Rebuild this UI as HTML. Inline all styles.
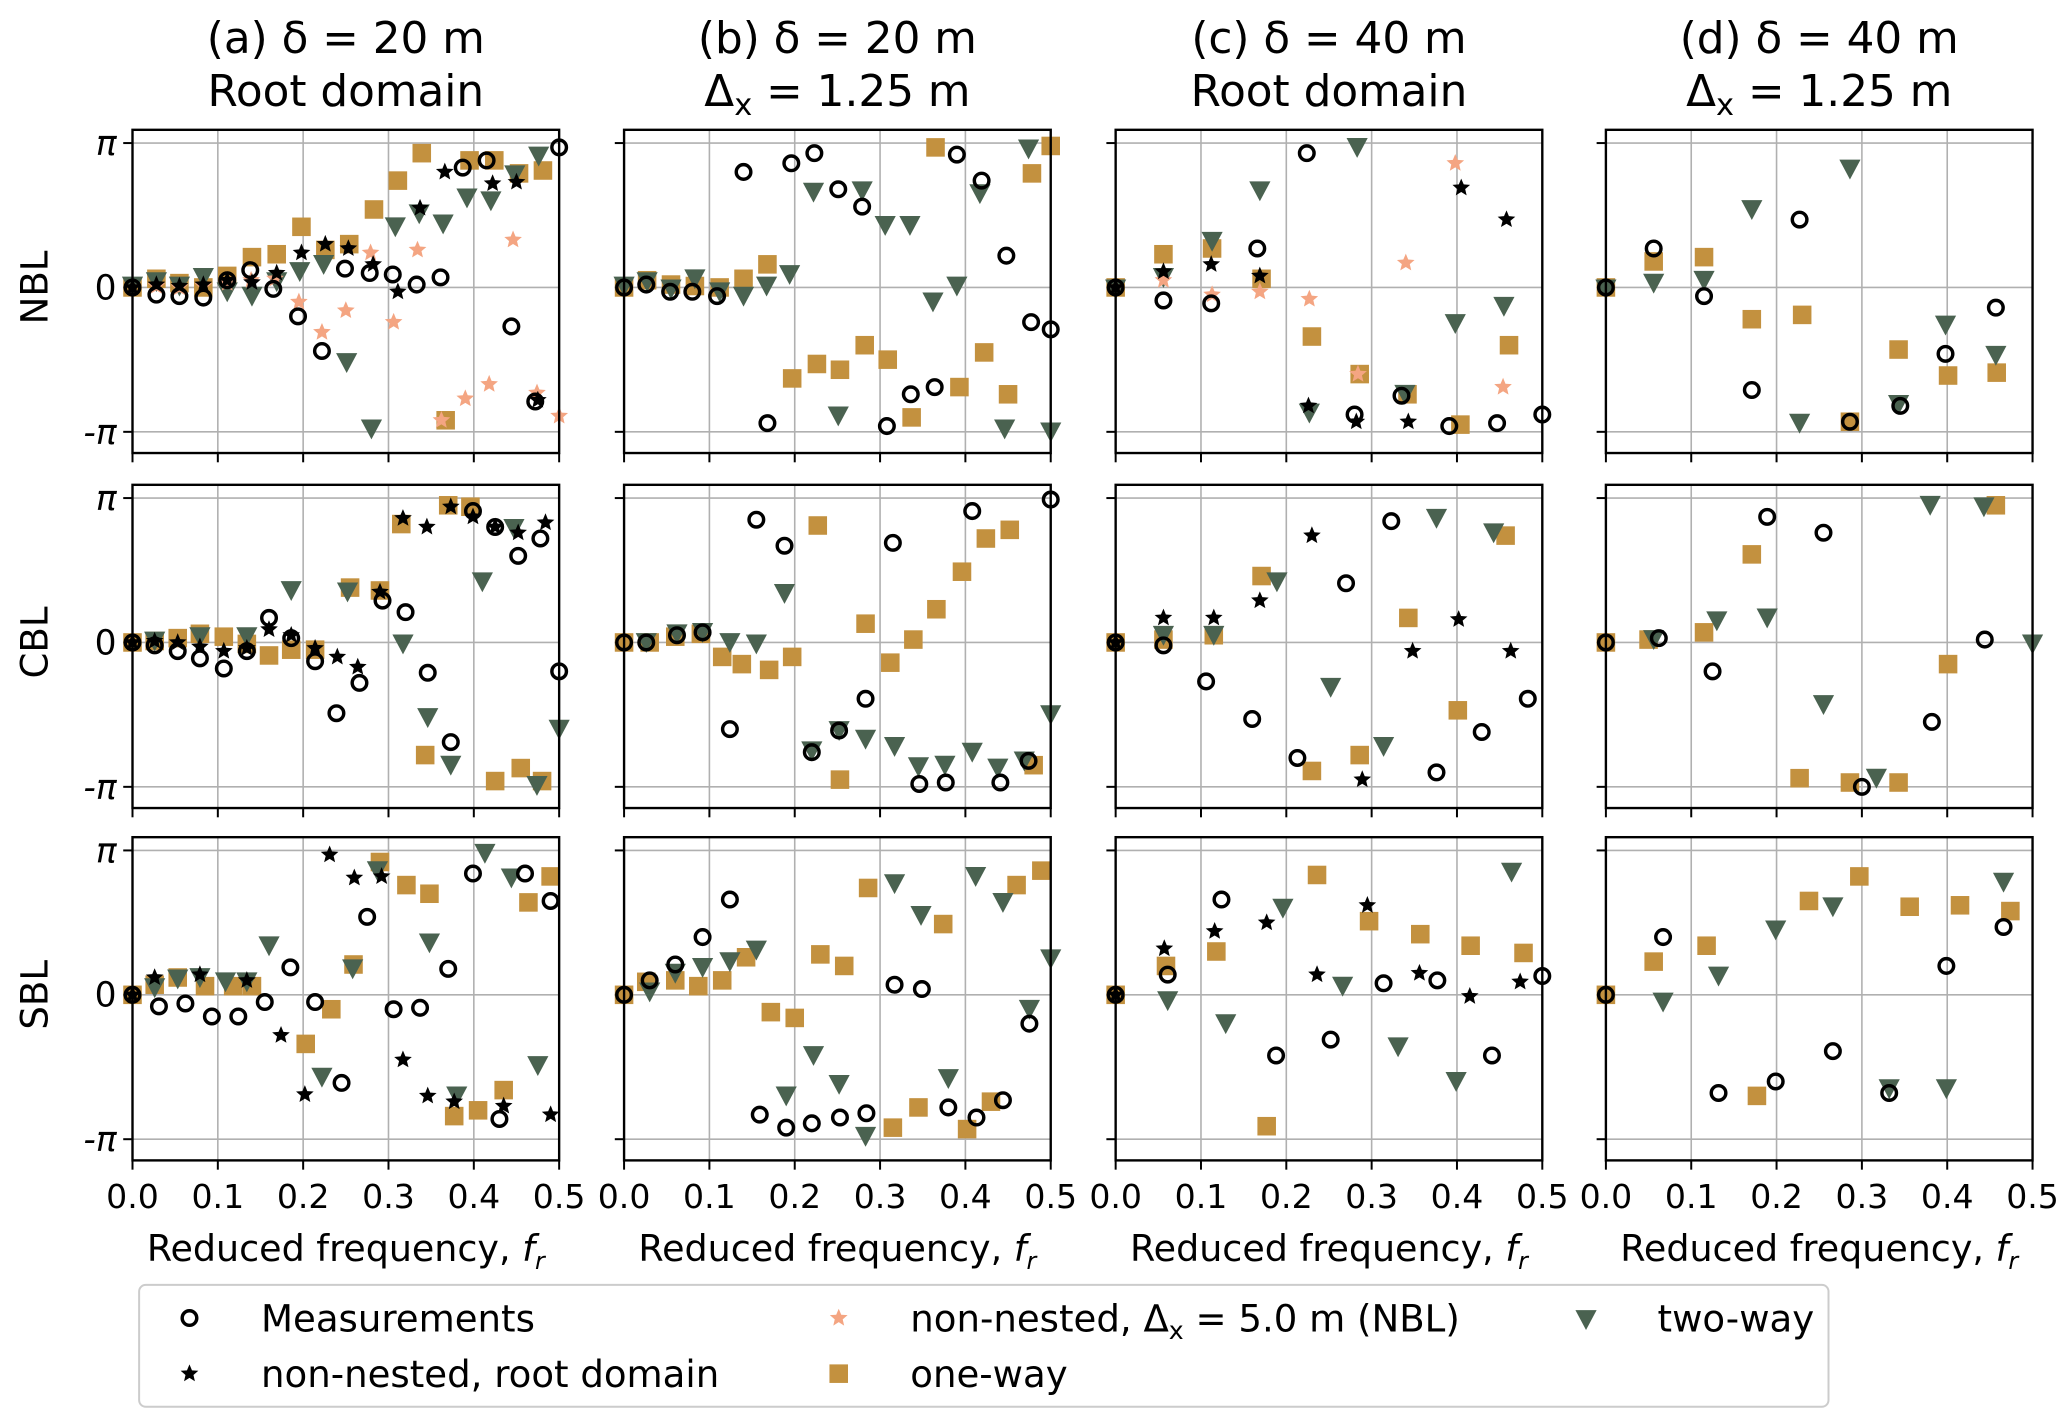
<!DOCTYPE html>
<html><head><meta charset="utf-8"><style>
html,body{margin:0;padding:0;background:#fff;}
svg{display:block;font-family:"DejaVu Sans","Liberation Sans",sans-serif;}
</style></head><body>
<svg id="fig" width="2067" height="1424" viewBox="0 0 1560 1075" preserveAspectRatio="none" xmlns="http://www.w3.org/2000/svg"></svg>
<script>
// ---- data: [reduced frequency, phase / pi] ----
const aNBL_meas=[[0,0],[0.028,-0.05],[0.055,-0.06],[0.083,-0.07],[0.111,0.05],[0.138,0.12],[0.165,-0.01],[0.194,-0.2],[0.222,-0.44],[0.249,0.13],[0.278,0.1],[0.305,0.09],[0.333,0.02],[0.361,0.07],[0.387,0.83],[0.415,0.88],[0.444,-0.27],[0.472,-0.79],[0.5,0.97]];
const aNBL_root=[[0,0],[0.028,0.02],[0.055,0.01],[0.083,0.02],[0.111,0.05],[0.14,0.035],[0.169,0.1],[0.198,0.24],[0.226,0.3],[0.253,0.27],[0.282,0.16],[0.311,-0.03],[0.337,0.55],[0.366,0.8],[0.422,0.72],[0.45,0.73],[0.475,-0.78]];
const aNBL_nn5=[[0,0],[0.028,0.01],[0.055,0],[0.083,0.01],[0.111,0.03],[0.139,0.05],[0.167,0.06],[0.195,-0.1],[0.222,-0.31],[0.25,-0.16],[0.279,0.24],[0.306,-0.24],[0.334,0.26],[0.362,-0.92],[0.39,-0.77],[0.418,-0.67],[0.446,0.33],[0.474,-0.73],[0.5,-0.89]];
const aNBL_one=[[0,0],[0.028,0.06],[0.055,0.03],[0.083,0],[0.111,0.08],[0.14,0.21],[0.169,0.23],[0.198,0.42],[0.226,0.26],[0.254,0.3],[0.283,0.54],[0.311,0.74],[0.339,0.93],[0.367,-0.92],[0.395,0.88],[0.424,0.88],[0.453,0.79],[0.481,0.81]];
const aNBL_two=[[0,0.02],[0.028,0.05],[0.055,0.02],[0.083,0.08],[0.111,-0.02],[0.14,-0.05],[0.169,0.05],[0.196,0.12],[0.224,0.17],[0.251,-0.51],[0.28,-0.97],[0.308,0.43],[0.336,0.52],[0.364,0.45],[0.392,0.63],[0.42,0.61],[0.448,0.79],[0.476,0.92]];

const bNBL_meas=[[0,0],[0.026,0.02],[0.054,-0.03],[0.08,-0.03],[0.109,-0.06],[0.14,0.8],[0.168,-0.94],[0.196,0.86],[0.223,0.93],[0.251,0.68],[0.279,0.56],[0.308,-0.96],[0.336,-0.74],[0.364,-0.69],[0.39,0.92],[0.419,0.74],[0.448,0.22],[0.477,-0.24],[0.5,-0.29]];
const bNBL_one=[[0,0],[0.027,0.05],[0.055,0.02],[0.083,0.01],[0.112,0],[0.14,0.06],[0.168,0.16],[0.197,-0.63],[0.226,-0.53],[0.253,-0.57],[0.282,-0.4],[0.309,-0.5],[0.337,-0.9],[0.365,0.97],[0.393,-0.69],[0.422,-0.45],[0.45,-0.74],[0.478,0.79],[0.5,0.98]];
const bNBL_two=[[0,0.02],[0.027,0.05],[0.055,0],[0.083,0.07],[0.112,-0.02],[0.14,-0.05],[0.167,0.02],[0.194,0.1],[0.222,0.67],[0.251,-0.88],[0.279,0.68],[0.306,0.44],[0.335,0.44],[0.362,-0.09],[0.39,0.02],[0.417,0.66],[0.446,-0.97],[0.474,0.97],[0.5,-0.99]];

const cNBL_meas=[[0,0],[0.056,-0.09],[0.112,-0.11],[0.166,0.27],[0.224,0.93],[0.28,-0.88],[0.335,-0.75],[0.391,-0.96],[0.447,-0.94],[0.5,-0.88]];
const cNBL_root=[[0,0],[0.056,0.11],[0.112,0.16],[0.169,0.08],[0.226,-0.82],[0.282,-0.93],[0.343,-0.93],[0.405,0.69],[0.458,0.47]];
const cNBL_nn5=[[0,0],[0.056,0.05],[0.113,-0.05],[0.169,-0.03],[0.227,-0.08],[0.284,-0.6],[0.34,0.17],[0.398,0.86],[0.454,-0.69]];
const cNBL_one=[[0,0],[0.056,0.23],[0.113,0.27],[0.171,0.06],[0.23,-0.34],[0.286,-0.6],[0.342,-0.74],[0.404,-0.95],[0.461,-0.4]];
const cNBL_two=[[0,0],[0.056,0.08],[0.113,0.33],[0.169,0.68],[0.227,-0.86],[0.283,0.98],[0.339,-0.73],[0.398,-0.24],[0.455,-0.12]];

const dNBL_meas=[[0,0],[0.056,0.27],[0.115,-0.06],[0.171,-0.71],[0.227,0.47],[0.286,-0.93],[0.345,-0.82],[0.398,-0.46],[0.457,-0.14]];
const dNBL_one=[[0,0],[0.056,0.18],[0.115,0.21],[0.171,-0.22],[0.23,-0.19],[0.286,-0.93],[0.343,-0.43],[0.401,-0.61],[0.458,-0.59]];
const dNBL_two=[[0,0],[0.056,0.04],[0.115,0.06],[0.171,0.55],[0.227,-0.93],[0.286,0.83],[0.343,-0.8],[0.398,-0.25],[0.457,-0.46]];

const aCBL_meas=[[0,0],[0.026,-0.02],[0.053,-0.06],[0.079,-0.11],[0.107,-0.18],[0.134,-0.06],[0.16,0.17],[0.186,0.03],[0.214,-0.13],[0.239,-0.49],[0.266,-0.28],[0.293,0.29],[0.32,0.21],[0.346,-0.21],[0.373,-0.69],[0.399,0.91],[0.425,0.8],[0.452,0.6],[0.478,0.72],[0.5,-0.2]];
const aCBL_root=[[0,0],[0.026,0.01],[0.053,0],[0.079,-0.03],[0.107,-0.06],[0.134,-0.04],[0.16,0.09],[0.186,0.05],[0.214,-0.04],[0.24,-0.1],[0.264,-0.17],[0.29,0.35],[0.317,0.86],[0.345,0.8],[0.373,0.94],[0.399,0.87],[0.425,0.8],[0.452,0.76],[0.484,0.83]];
const aCBL_one=[[0,0],[0.026,0.01],[0.053,0.03],[0.079,0.06],[0.107,0.04],[0.134,-0.01],[0.16,-0.09],[0.186,-0.05],[0.214,-0.05],[0.255,0.38],[0.29,0.36],[0.315,0.82],[0.343,-0.78],[0.37,0.95],[0.396,0.94],[0.425,-0.96],[0.455,-0.87],[0.48,-0.96]];
const aCBL_two=[[0.026,0.02],[0.079,0.05],[0.134,0.05],[0.186,0.37],[0.252,0.36],[0.317,0],[0.346,-0.51],[0.373,-0.84],[0.41,0.43],[0.447,0.8],[0.474,-0.98],[0.5,-0.59]];

const bCBL_meas=[[0,0],[0.026,0],[0.062,0.05],[0.092,0.07],[0.124,-0.6],[0.155,0.85],[0.188,0.67],[0.22,-0.76],[0.252,-0.61],[0.283,-0.39],[0.315,0.69],[0.346,-0.98],[0.377,-0.97],[0.408,0.91],[0.441,-0.97],[0.474,-0.82],[0.5,0.99]];
const bCBL_one=[[0,0],[0.03,0],[0.06,0.04],[0.09,0.06],[0.115,-0.1],[0.138,-0.15],[0.17,-0.19],[0.197,-0.1],[0.227,0.81],[0.253,-0.95],[0.283,0.13],[0.312,-0.14],[0.339,0.02],[0.366,0.23],[0.396,0.49],[0.424,0.72],[0.452,0.78],[0.48,-0.85]];
const bCBL_two=[[0.026,0.01],[0.062,0.07],[0.092,0.08],[0.124,0.01],[0.155,0],[0.188,0.35],[0.22,-0.74],[0.252,-0.6],[0.283,-0.66],[0.317,-0.71],[0.345,-0.85],[0.376,-0.84],[0.408,-0.75],[0.438,-0.86],[0.469,-0.81],[0.5,-0.49]];

const cCBL_meas=[[0,0],[0.056,-0.02],[0.106,-0.27],[0.16,-0.53],[0.213,-0.8],[0.27,0.41],[0.323,0.84],[0.376,-0.9],[0.429,-0.62],[0.483,-0.39]];
const cCBL_root=[[0,0],[0.056,0.17],[0.115,0.17],[0.169,0.29],[0.23,0.74],[0.289,-0.95],[0.348,-0.06],[0.402,0.16],[0.463,-0.06]];
const cCBL_one=[[0,0],[0.056,0.02],[0.115,0.05],[0.171,0.46],[0.23,-0.89],[0.286,-0.78],[0.343,0.17],[0.401,-0.47],[0.457,0.74]];
const cCBL_two=[[0.056,0.06],[0.115,0.06],[0.189,0.43],[0.252,-0.3],[0.314,-0.71],[0.376,0.87],[0.443,0.77]];

const dCBL_meas=[[0,0],[0.062,0.03],[0.125,-0.2],[0.189,0.87],[0.255,0.76],[0.3,-1.0],[0.382,-0.55],[0.444,0.02]];
const dCBL_one=[[0,0],[0.05,0.02],[0.115,0.07],[0.171,0.61],[0.227,-0.94],[0.286,-0.97],[0.343,-0.97],[0.401,-0.15],[0.457,0.95]];
const dCBL_two=[[0.056,0.03],[0.13,0.16],[0.189,0.18],[0.255,-0.42],[0.317,-0.93],[0.38,0.96],[0.443,0.95],[0.5,0]];

const aSBL_meas=[[0,0],[0.031,-0.08],[0.062,-0.06],[0.093,-0.15],[0.124,-0.15],[0.155,-0.05],[0.185,0.19],[0.214,-0.05],[0.245,-0.61],[0.275,0.54],[0.306,-0.1],[0.337,-0.09],[0.37,0.18],[0.399,0.84],[0.43,-0.86],[0.46,0.84],[0.49,0.65]];
const aSBL_root=[[0,0],[0.026,0.12],[0.079,0.14],[0.134,0.1],[0.174,-0.28],[0.202,-0.69],[0.231,0.97],[0.26,0.81],[0.292,0.82],[0.317,-0.45],[0.346,-0.7],[0.377,-0.74],[0.435,-0.77],[0.49,-0.83]];
const aSBL_one=[[0,0],[0.026,0.07],[0.053,0.12],[0.085,0.06],[0.118,0.06],[0.14,0.06],[0.203,-0.34],[0.233,-0.1],[0.259,0.21],[0.29,0.92],[0.321,0.76],[0.348,0.7],[0.377,-0.84],[0.405,-0.8],[0.435,-0.66],[0.464,0.64],[0.49,0.82]];
const aSBL_two=[[0.026,0.06],[0.053,0.12],[0.079,0.13],[0.109,0.1],[0.134,0.1],[0.16,0.35],[0.222,-0.56],[0.258,0.19],[0.287,0.87],[0.348,0.37],[0.38,-0.69],[0.413,0.99],[0.444,0.82],[0.475,-0.48]];

const bSBL_meas=[[0,0],[0.03,0.1],[0.06,0.21],[0.092,0.4],[0.124,0.66],[0.159,-0.83],[0.19,-0.92],[0.22,-0.89],[0.253,-0.85],[0.284,-0.82],[0.317,0.07],[0.349,0.04],[0.38,-0.78],[0.413,-0.85],[0.444,-0.73],[0.475,-0.2]];
const bSBL_one=[[0,0],[0.026,0.09],[0.06,0.1],[0.087,0.06],[0.115,0.1],[0.143,0.26],[0.172,-0.12],[0.2,-0.16],[0.23,0.28],[0.258,0.2],[0.286,0.74],[0.315,-0.92],[0.345,-0.78],[0.374,0.49],[0.402,-0.93],[0.43,-0.74],[0.46,0.76],[0.489,0.86]];
const bSBL_two=[[0.03,0.03],[0.06,0.16],[0.092,0.2],[0.124,0.24],[0.155,0.32],[0.19,-0.69],[0.222,-0.41],[0.252,-0.61],[0.283,-0.97],[0.317,0.78],[0.348,0.56],[0.38,-0.57],[0.412,0.83],[0.444,0.65],[0.475,-0.09],[0.5,0.26]];

const cSBL_meas=[[0,0],[0.061,0.14],[0.124,0.66],[0.188,-0.42],[0.252,-0.31],[0.314,0.08],[0.377,0.1],[0.441,-0.42],[0.5,0.13]];
const cSBL_root=[[0,0],[0.057,0.32],[0.116,0.44],[0.177,0.5],[0.236,0.14],[0.295,0.62],[0.356,0.15],[0.415,-0.01],[0.474,0.09]];
const cSBL_one=[[0,0],[0.059,0.2],[0.118,0.3],[0.177,-0.91],[0.236,0.83],[0.297,0.51],[0.357,0.42],[0.416,0.34],[0.478,0.29]];
const cSBL_two=[[0.061,-0.03],[0.129,-0.19],[0.196,0.61],[0.266,0.07],[0.331,-0.35],[0.399,-0.59],[0.464,0.86]];

const dSBL_meas=[[0,0],[0.067,0.4],[0.132,-0.68],[0.199,-0.6],[0.266,-0.39],[0.332,-0.68],[0.399,0.2],[0.466,0.47]];
const dSBL_one=[[0,0],[0.056,0.23],[0.118,0.34],[0.177,-0.7],[0.238,0.65],[0.297,0.82],[0.356,0.61],[0.415,0.62],[0.474,0.58]];
const dSBL_two=[[0.067,-0.04],[0.132,0.14],[0.199,0.46],[0.266,0.62],[0.332,-0.64],[0.399,-0.64],[0.466,0.79]];

const xTicks=["0.0","0.1","0.2","0.3","0.4","0.5"];
const yTicks=[["π",1],["0",0],["-π",-1]];
const rowNames=["NBL","CBL","SBL"];
const colTitles=[["(a) δ = 20 m","Root domain"],["(b) δ = 20 m","Δx = 1.25 m"],["(c) δ = 40 m","Root domain"],["(d) δ = 40 m","Δx = 1.25 m"]];

const panels=[
 [{meas:aNBL_meas,root:aNBL_root,nn5:aNBL_nn5,one:aNBL_one,two:aNBL_two},{meas:bNBL_meas,one:bNBL_one,two:bNBL_two},{meas:cNBL_meas,root:cNBL_root,nn5:cNBL_nn5,one:cNBL_one,two:cNBL_two},{meas:dNBL_meas,one:dNBL_one,two:dNBL_two}],
 [{meas:aCBL_meas,root:aCBL_root,one:aCBL_one,two:aCBL_two},{meas:bCBL_meas,one:bCBL_one,two:bCBL_two},{meas:cCBL_meas,root:cCBL_root,one:cCBL_one,two:cCBL_two},{meas:dCBL_meas,one:dCBL_one,two:dCBL_two}],
 [{meas:aSBL_meas,root:aSBL_root,one:aSBL_one,two:aSBL_two},{meas:bSBL_meas,one:bSBL_one,two:bSBL_two},{meas:cSBL_meas,root:cSBL_root,one:cSBL_one,two:cSBL_two},{meas:dSBL_meas,one:dSBL_one,two:dSBL_two}]
];

const NS="http://www.w3.org/2000/svg";
const svg=document.getElementById('fig');
const colX=[100,471,842,1212], W=322;
const rowZero=[217,485,751], PI_PX=109, H_HALF=119;
const C_ONE="#c3913f", C_TWO="#4a6250", C_NN5="#f4a582";
function el(tag,attrs,parent){const e=document.createElementNS(NS,tag);for(const k in attrs)e.setAttribute(k,attrs[k]);(parent||svg).appendChild(e);return e;}
function txt(s,attrs,parent){const t=el('text',attrs,parent);t.textContent=s;return t;}
function starPath(cx,cy,r){let d="";for(let i=0;i<10;i++){const a=-Math.PI/2+i*Math.PI/5;const rr=i%2?r*0.45:r;d+=(i?"L":"M")+(cx+rr*Math.cos(a)).toFixed(1)+","+(cy+rr*Math.sin(a)).toFixed(1);}return d+"Z";}
function mk(type,cx,cy,g){
 let m;
 if(type==='one'){m=el('rect',{x:cx-7,y:cy-7,width:14,height:14,fill:C_ONE},g);}
 else if(type==='two'){m=el('path',{d:`M${cx-8},${cy-6}L${cx+8},${cy-6}L${cx},${cy+9}Z`,fill:C_TWO},g);}
 else if(type==='nn5'){m=el('path',{d:starPath(cx,cy,7),fill:C_NN5},g);}
 else if(type==='root'){m=el('path',{d:starPath(cx,cy,7),fill:"#000"},g);}
 else {m=el('circle',{cx:cx,cy:cy,r:5.5,fill:"none",stroke:"#000","stroke-width":2.6},g);}
 return m;
}

for(let r=0;r<3;r++){for(let c=0;c<4;c++){
 const x0=colX[c], y0=rowZero[r];
 const xs=f=>x0+f/0.5*W, ys=p=>y0-p*PI_PX;
 const g=el('g',{});
 
 
 const top=y0-H_HALF, bot=y0+H_HALF+6;
 for(let i=1;i<5;i++){const gx=xs(i*0.1);const l=el('line',{x1:gx,x2:gx,y1:top,y2:bot,stroke:"#b0b0b0","stroke-width":1.2},g);}
 yTicks.forEach(t=>{const gy=ys(t[1]);const l=el('line',{x1:x0,x2:x0+W,y1:gy,y2:gy,stroke:"#b0b0b0","stroke-width":1.2},g);
  el('line',{x1:x0-7,x2:x0,y1:gy,y2:gy,stroke:"#000","stroke-width":1.5},g);
  if(c===0){const tl=txt(t[0],{x:x0-12,y:gy+9,"text-anchor":"end","font-size":26,"font-style":t[0]==="0"?"normal":"italic"},g);}
 });
 xTicks.forEach((t,i)=>{const gx=xs(i*0.1);el('line',{x1:gx,x2:gx,y1:bot,y2:bot+7,stroke:"#000","stroke-width":1.5},g);
  if(r===2){const tl=txt(t,{x:gx,y:bot+36,"text-anchor":"middle","font-size":25},g);}});
 const d=panels[r][c];
 ['one','two','nn5','root','meas'].forEach(s=>{if(!d[s])return;d[s].forEach(p=>{const m=mk(s,xs(p[0]),ys(p[1]),g);
  
  });});
 const fr=el('rect',{x:x0,y:top,width:W,height:bot-top,fill:"none",stroke:"#000","stroke-width":1.8},g);
 
 if(r===2){const xl=txt('',{x:x0+W/2,y:952,"text-anchor":"middle","font-size":27.5},g);xl.innerHTML='Reduced frequency, <tspan font-style="italic">f</tspan><tspan font-style="italic" font-size="18" dy="6">r</tspan>';
  }
 if(r===0){const t1=txt(colTitles[c][0],{x:x0+W/2,y:40,"text-anchor":"middle","font-size":33},g);
  const t2=txt('',{x:x0+W/2,y:80,"text-anchor":"middle","font-size":33},g);
  t2.innerHTML=colTitles[c][1].startsWith('Δ')?'Δ<tspan font-size="23" dy="7">x</tspan><tspan dy="-7"> = 1.25 m</tspan>':colTitles[c][1];
  }
 if(c===0){const rl=txt(rowNames[r],{x:36,y:y0,"text-anchor":"middle","font-size":28,transform:`rotate(-90 36 ${y0})`},g);}
}}

const lg=el('g',{});


el('rect',{x:105,y:970,width:1275,height:92,rx:5,fill:"#fff",stroke:"#cccccc","stroke-width":1.5},lg);
const entries=[['meas',143,995,'Measurements'],['root',143,1037,'non-nested, root domain'],['nn5',633,995,'non-nested, Δx = 5.0 m (NBL)'],['one',633,1037,'one-way'],['two',1197,995,'two-way']];
entries.forEach(e=>{const eg=el('g',{},lg);
 
 
 mk(e[0],e[1],e[2],eg);
 const t=txt('',{x:e[1]+54,y:e[2]+10,"font-size":28},eg);
 if(e[0]==='nn5')t.innerHTML='non-nested, Δ<tspan font-size="19" dy="6">x</tspan><tspan dy="-6"> = 5.0 m (NBL)</tspan>';else t.textContent=e[3];
});
</script>
</body></html>
